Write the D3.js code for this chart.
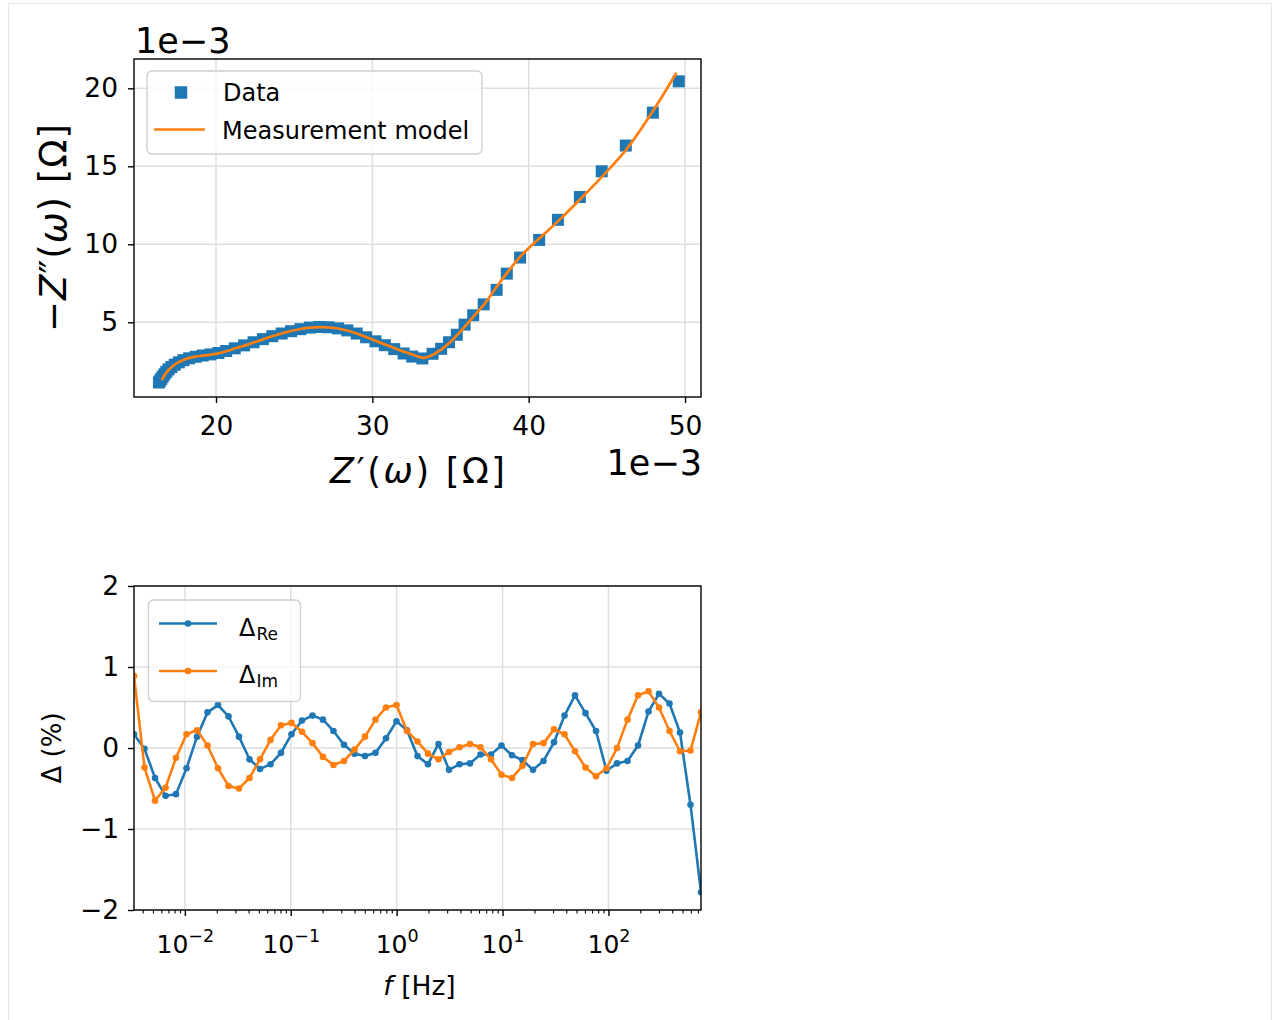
<!DOCTYPE html>
<html><head><meta charset="utf-8">
<script src="https://cdn.jsdelivr.net/npm/d3@7"></script>
<style>body{margin:0;background:#fff} svg text{font-family:"DejaVu Sans",sans-serif;fill:#000}</style>
</head><body><svg id="c" width="1275" height="1020"></svg>
<script>
// ---------- DATA ----------
// frequencies [Hz], ascending
const freq = [0.00331,0.00416,0.00523,0.00657,0.00825,0.01037,0.01303,0.01637,0.02056,0.02584,
  0.03246,0.04079,0.05125,0.06439,0.0809,0.1016,0.1277,0.1605,0.2016,0.2533,
  0.3183,0.3999,0.5025,0.6314,0.7933,0.9967,1.252,1.574,1.977,2.484,
  3.121,3.922,4.928,6.192,7.780,9.775,12.28,15.43,19.39,24.37,
  30.62,38.47,48.33,60.73,76.30,95.87,120.5,151.4,190.2,239.0,
  300.2,377.2,474.0,595.6,748.2];
// Nyquist data (units of 1e-3 Ohm), same order as freq
const zReal = [49.60,47.94,46.21,44.67,43.27,41.87,40.67,39.45,38.60,37.95,
  37.12,36.45,35.90,35.40,34.90,34.40,33.85,33.20,32.55,32.00,
  31.40,30.80,30.20,29.60,29.00,28.40,27.80,27.20,26.60,26.00,
  25.40,24.80,24.20,23.60,23.00,22.40,21.80,21.20,20.65,20.15,
  19.65,19.15,18.70,18.28,17.92,17.62,17.36,17.15,16.97,16.82,
  16.70,16.59,16.50,16.42,16.35];
const zImagNeg = [20.45,18.44,16.33,14.68,13.03,11.57,10.28,9.15,8.12,7.08,
  6.15,5.45,4.85,4.20,3.72,3.30,2.98,2.68,2.80,3.00,
  3.28,3.53,3.78,4.04,4.28,4.48,4.61,4.68,4.70,4.66,
  4.56,4.43,4.28,4.11,3.92,3.72,3.52,3.33,3.16,3.03,
  2.94,2.87,2.79,2.69,2.57,2.43,2.28,2.13,1.98,1.82,
  1.66,1.51,1.37,1.25,1.14];
// Measurement model (units of 1e-3 Ohm)
const modelReal = [49.45,47.95,46.30,44.80,43.35,41.95,40.65,39.50,38.60,37.90,
  37.15,36.45,35.90,35.35,34.90,34.40,33.85,33.25,32.60,32.00,
  31.40,30.80,30.20,29.60,29.00,28.40,27.80,27.20,26.60,26.00,
  25.40,24.80,24.20,23.60,23.00,22.40,21.80,21.20,20.65,20.15,
  19.65,19.15,18.70,18.30,17.95,17.65,17.40,17.20,17.03,16.89,
  16.78,16.69,16.62,16.57,16.55];
const modelImagNeg = [21.00,18.55,16.15,14.45,12.95,11.55,10.35,9.25,8.15,7.20,
  6.15,5.35,4.70,4.10,3.65,3.25,2.90,2.72,2.92,3.12,
  3.35,3.58,3.82,4.06,4.28,4.47,4.60,4.67,4.69,4.66,
  4.57,4.44,4.28,4.10,3.90,3.70,3.50,3.32,3.14,3.01,
  2.93,2.86,2.80,2.72,2.60,2.46,2.31,2.16,2.01,1.86,
  1.71,1.57,1.45,1.35,1.28];
// residuals (%)
const deltaRe = [0.17,-0.01,-0.37,-0.59,-0.57,-0.25,0.14,0.44,0.53,0.39,
  0.14,-0.14,-0.26,-0.20,-0.06,0.17,0.34,0.40,0.35,0.21,
  0.04,-0.07,-0.10,-0.06,0.12,0.33,0.22,-0.10,-0.20,0.05,
  -0.27,-0.20,-0.19,-0.08,-0.08,0.03,-0.09,-0.15,-0.27,-0.16,
  0.07,0.40,0.65,0.43,0.21,-0.28,-0.19,-0.16,0.03,0.45,
  0.67,0.55,0.19,-0.70,-1.78];
const deltaIm = [0.89,-0.24,-0.65,-0.49,-0.12,0.17,0.22,0.03,-0.25,-0.47,
  -0.50,-0.37,-0.14,0.10,0.28,0.31,0.20,0.06,-0.11,-0.21,
  -0.16,-0.02,0.14,0.35,0.50,0.53,0.21,0.08,-0.07,-0.14,
  -0.05,0.01,0.05,0.01,-0.14,-0.33,-0.37,-0.22,0.05,0.06,
  0.23,0.17,-0.04,-0.24,-0.35,-0.25,0.00,0.35,0.65,0.70,
  0.50,0.21,-0.04,-0.03,0.44];
const topXTicks = [20,30,40,50];
const topYTicks = [5,10,15,20];
const botYTicks = [-2,-1,0,1,2];
const botXMajor = [1e-2,1e-1,1e0,1e1,1e2];
const legendTop = ["Data","Measurement model"];
const legendBot = [["Δ","Re"],["Δ","Im"]];

// ---------- DRAW ----------
const BLUE = "#1f77b4", ORANGE = "#ff7f0e", GRID = "#dedede";
const svg = d3.select("#c");
svg.append("rect").attr("x",8.5).attr("y",3.5).attr("width",1263).attr("height",1030)
  .attr("fill","none").attr("stroke","#e6e6e6");

function styleAxis(g, fs){
  g.select(".domain").remove();
  g.selectAll(".tick line").attr("stroke","#000").attr("stroke-width",1.4);
  g.selectAll(".tick text").attr("font-size",fs||26.5).attr("fill","#000");
}

// ===== TOP: Nyquist =====
const T = {l:134, r:701, t:59, b:397};
const x1 = d3.scaleLinear().domain([14.755, 51.02]).range([T.l, T.r]);
const y1 = d3.scaleLinear().domain([0.21, 21.88]).range([T.b, T.t]);
const gt = svg.append("g");
svg.append("clipPath").attr("id","clipT").append("rect")
  .attr("x",T.l).attr("y",T.t).attr("width",T.r-T.l).attr("height",T.b-T.t);
// grid
gt.append("g").selectAll("line").data(topXTicks).join("line")
  .attr("x1",d=>x1(d)).attr("x2",d=>x1(d)).attr("y1",T.t).attr("y2",T.b)
  .attr("stroke",GRID).attr("stroke-width",1.5);
gt.append("g").selectAll("line").data(topYTicks).join("line")
  .attr("y1",d=>y1(d)).attr("y2",d=>y1(d)).attr("x1",T.l).attr("x2",T.r)
  .attr("stroke",GRID).attr("stroke-width",1.5);
// data squares
const sq = 12;
const dT = gt.append("g").attr("clip-path","url(#clipT)");
dT.selectAll("rect").data(d3.range(zReal.length)).join("rect")
  .attr("x",i=>x1(zReal[i])-sq/2).attr("y",i=>y1(zImagNeg[i])-sq/2)
  .attr("width",sq).attr("height",sq).attr("fill",BLUE);
const lineT = d3.line().x(i=>x1(modelReal[i])).y(i=>y1(modelImagNeg[i])).curve(d3.curveCatmullRom);
dT.append("path").attr("d",lineT(d3.range(modelReal.length)))
  .attr("fill","none").attr("stroke",ORANGE).attr("stroke-width",2.7);
// axes
const axT_x = gt.append("g").attr("transform",`translate(0,${T.b})`)
  .call(d3.axisBottom(x1).tickValues(topXTicks).tickSize(6).tickFormat(d3.format("d")));
styleAxis(axT_x);
axT_x.selectAll(".tick text").attr("y",38).attr("dy",null);
const axT_y = gt.append("g").attr("transform",`translate(${T.l},0)`)
  .call(d3.axisLeft(y1).tickValues(topYTicks).tickSize(6).tickPadding(10).tickFormat(d3.format("d")));
styleAxis(axT_y);
gt.append("rect").attr("x",T.l).attr("y",T.t).attr("width",T.r-T.l).attr("height",T.b-T.t)
  .attr("fill","none").attr("stroke","#000").attr("stroke-width",1.4);
// offset texts
gt.append("text").attr("x",T.l+1).attr("y",53).attr("font-size",35).text("1e−3");
gt.append("text").attr("x",T.r+1).attr("y",475).attr("font-size",35).attr("text-anchor","end").text("1e−3");
// axis labels
const xl = gt.append("text").attr("x",(T.l+T.r)/2).attr("y",483).attr("font-size",35)
  .attr("text-anchor","middle").attr("textLength",175).attr("lengthAdjust","spacing");
xl.append("tspan").attr("font-style","italic").text("Z");
xl.append("tspan").text("′(");
xl.append("tspan").attr("font-style","italic").text("ω");
xl.append("tspan").text(") [Ω]");
const yl = gt.append("text").attr("transform",`translate(66,${(T.t+T.b)/2}) rotate(-90)`)
  .attr("font-size",37).attr("text-anchor","middle").attr("textLength",208).attr("lengthAdjust","spacing");
yl.append("tspan").text("−");
yl.append("tspan").attr("font-style","italic").text("Z");
yl.append("tspan").text("″(");
yl.append("tspan").attr("font-style","italic").text("ω");
yl.append("tspan").text(") [Ω]");
// legend
const lg = gt.append("g");
lg.append("rect").attr("x",147).attr("y",71).attr("width",335).attr("height",83).attr("rx",5)
  .attr("fill","#fff").attr("fill-opacity",0.8).attr("stroke","#d0d0d0").attr("stroke-width",1.4);
lg.append("rect").attr("x",181-6.25).attr("y",92.5-6.25).attr("width",12.5).attr("height",12.5).attr("fill",BLUE);
lg.append("text").attr("x",223).attr("y",100.5).attr("font-size",24).text(legendTop[0]);
lg.append("line").attr("x1",154).attr("x2",205).attr("y1",129.5).attr("y2",129.5)
  .attr("stroke",ORANGE).attr("stroke-width",2.7);
lg.append("text").attr("x",222).attr("y",138.5).attr("font-size",24).text(legendTop[1]);

// ===== BOTTOM: residuals =====
const B = {l:134, r:701, t:586, b:910};
const x2 = d3.scaleLog().domain([freq[0], freq[freq.length-1]]).range([B.l, B.r]);
const y2 = d3.scaleLinear().domain([-2, 2]).range([B.b, B.t]);
const gb = svg.append("g");
svg.append("clipPath").attr("id","clipB").append("rect")
  .attr("x",B.l).attr("y",B.t).attr("width",B.r-B.l).attr("height",B.b-B.t);
gb.append("g").selectAll("line").data(botXMajor).join("line")
  .attr("x1",d=>x2(d)).attr("x2",d=>x2(d)).attr("y1",B.t).attr("y2",B.b)
  .attr("stroke",GRID).attr("stroke-width",1.5);
gb.append("g").selectAll("line").data(botYTicks).join("line")
  .attr("y1",d=>y2(d)).attr("y2",d=>y2(d)).attr("x1",B.l).attr("x2",B.r)
  .attr("stroke",GRID).attr("stroke-width",1.5);
const dB = gb.append("g").attr("clip-path","url(#clipB)");
[[deltaRe,BLUE],[deltaIm,ORANGE]].forEach(([arr,col])=>{
  const ln = d3.line().x(i=>x2(freq[i])).y(i=>y2(arr[i]));
  dB.append("path").attr("d",ln(d3.range(arr.length))).attr("fill","none")
    .attr("stroke",col).attr("stroke-width",2.6);
  dB.append("g").selectAll("circle").data(d3.range(arr.length)).join("circle")
    .attr("cx",i=>x2(freq[i])).attr("cy",i=>y2(arr[i])).attr("r",3.3).attr("fill",col);
});
// x axis (log)
const minor = x2.ticks().filter(v=>Math.abs(Math.log10(v)-Math.round(Math.log10(v)))>1e-6);
const axB_minor = gb.append("g").attr("transform",`translate(0,${B.b})`)
  .call(d3.axisBottom(x2).tickValues(minor).tickSize(3.5).tickFormat(()=>""));
styleAxis(axB_minor);
axB_minor.selectAll(".tick line").attr("stroke-width",1.1);
const axB_x = gb.append("g").attr("transform",`translate(0,${B.b})`)
  .call(d3.axisBottom(x2).tickValues(botXMajor).tickSize(6).tickFormat(()=>""));
styleAxis(axB_x);
axB_x.selectAll(".tick text").each(function(d){
  const t = d3.select(this).attr("y",43).attr("dy",null).attr("font-size",25);
  t.append("tspan").text("10");
  const e = Math.round(Math.log10(d));
  t.append("tspan").attr("dy",-11).attr("font-size",17.5).text(e<0?"−"+(-e):String(e));
});
const axB_y = gb.append("g").attr("transform",`translate(${B.l},0)`)
  .call(d3.axisLeft(y2).tickValues(botYTicks).tickSize(6).tickPadding(9).tickFormat(d3.format("d")));
styleAxis(axB_y);
gb.append("rect").attr("x",B.l).attr("y",B.t).attr("width",B.r-B.l).attr("height",B.b-B.t)
  .attr("fill","none").attr("stroke","#000").attr("stroke-width",1.4);
// labels
const fl = gb.append("text").attr("x",(B.l+B.r)/2+2).attr("y",995).attr("font-size",26.5).attr("text-anchor","middle");
fl.append("tspan").attr("font-style","italic").text("f");
fl.append("tspan").text(" [Hz]");
gb.append("text").attr("transform",`translate(61,${(B.t+B.b)/2}) rotate(-90)`)
  .attr("font-size",26).attr("text-anchor","middle").text("Δ (%)");
// legend
const lb = gb.append("g");
lb.append("rect").attr("x",148.5).attr("y",600).attr("width",152).attr("height",101.5).attr("rx",5)
  .attr("fill","#fff").attr("fill-opacity",0.8).attr("stroke","#d0d0d0").attr("stroke-width",1.4);
[[BLUE,623.5],[ORANGE,671]].forEach(([col,yy],k)=>{
  lb.append("line").attr("x1",159).attr("x2",217).attr("y1",yy).attr("y2",yy)
    .attr("stroke",col).attr("stroke-width",2.6);
  lb.append("circle").attr("cx",188).attr("cy",yy).attr("r",3.3).attr("fill",col);
  const t = lb.append("text").attr("x",239).attr("y",yy+12).attr("font-size",24);
  t.append("tspan").text(legendBot[k][0]);
  t.append("tspan").attr("dy",4).attr("dx",1).attr("font-size",17).text(legendBot[k][1]);
});
</script></body></html>
